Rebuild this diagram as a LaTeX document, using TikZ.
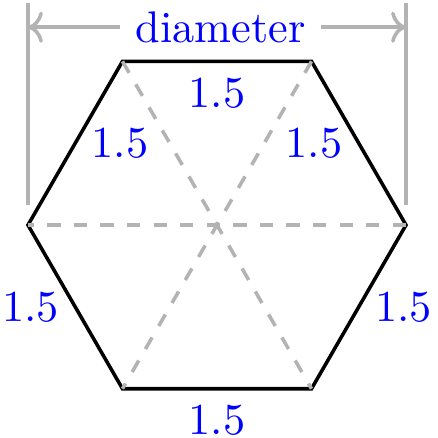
\documentclass[tikz,border=0pt]{standalone}
\usepackage{xcolor}
\usepackage{tikz}
\usetikzlibrary{arrows.meta, positioning}
\definecolor{guide}{HTML}{B3B3B3}

\begin{document}
\begin{tikzpicture}[
    side/.style={black, thick},
    diag/.style={guide, thick, dashed},
    dim/.style={guide, thick},
    lbl/.style={text=blue}
  ]
    \useasboundingbox (-1.722,-1.690) rectangle (1.754,1.786);
    \coordinate (e) at (0:1.5);
    \coordinate (ne) at (60:1.5);
    \coordinate (nw) at (120:1.5);
    \coordinate (w) at (180:1.5);
    \coordinate (sw) at (240:1.5);
    \coordinate (se) at (300:1.5);
    \draw[side] (e) -- node[lbl, left]{1.5} (ne) -- node[lbl, below]{1.5} (nw)
      -- node[lbl, right]{1.5} (w) -- node[lbl, left]{1.5} (sw)
      -- node[lbl, below]{1.5} (se) -- node[lbl, right]{1.5} cycle;
    \draw[diag] (e) -- (w);
    \draw[diag] (ne) -- (sw);
    \draw[diag] (nw) -- (se);
    % dimension line
    \coordinate (lt) at (-1.5,1.76);
    \coordinate (lb) at (-1.5,0.16);
    \coordinate (rt) at (1.5,1.76);
    \coordinate (rb) at (1.5,0.16);
    \draw[dim] (lb) -- (lt);
    \draw[dim] (rb) -- (rt);
    \node[lbl] (dia) at (0.03,1.57) {diameter};
    \draw[dim, ->] (dia) -- (dia -| lt);
    \draw[dim, ->] (dia) -- (dia -| rt);
  \end{tikzpicture}
\end{document}
